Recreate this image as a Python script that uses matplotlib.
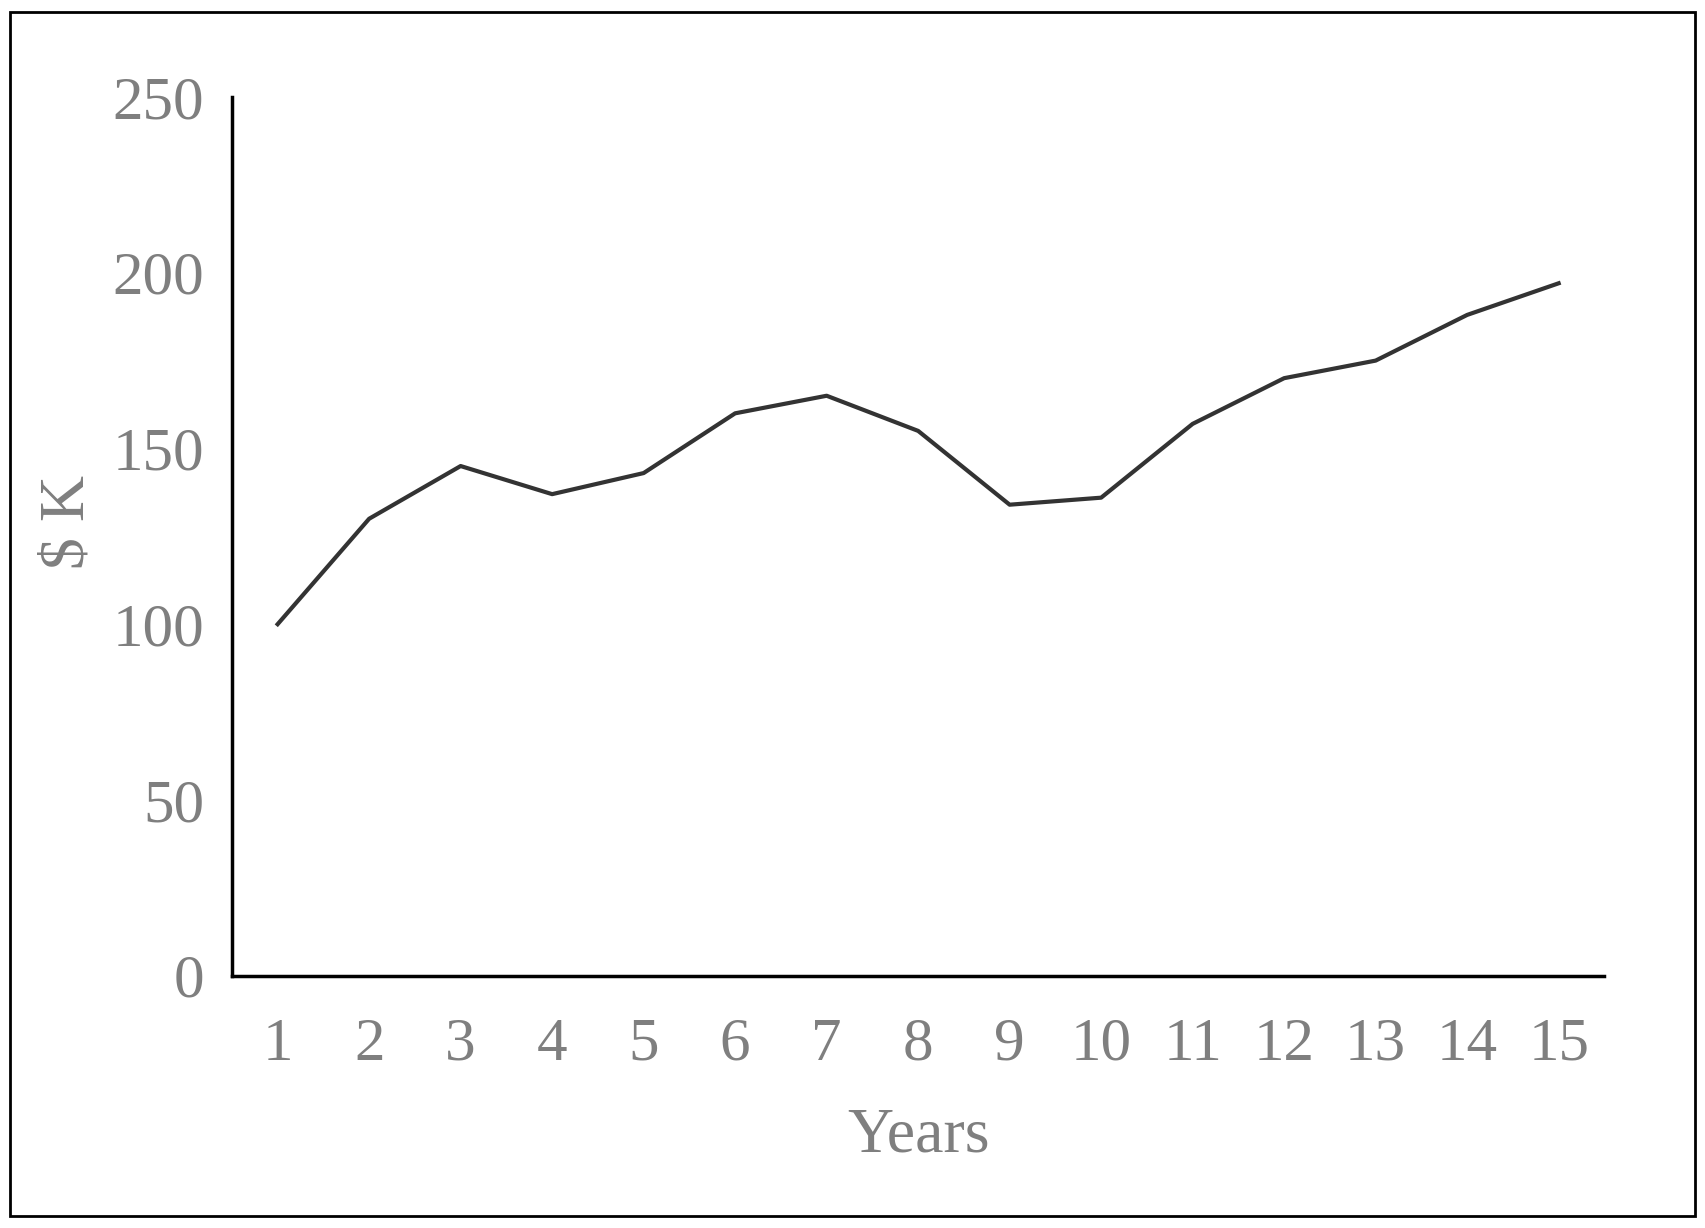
import matplotlib
matplotlib.use("Agg")
import matplotlib.pyplot as plt
from matplotlib.patches import Rectangle

years = list(range(1, 16))
values = [100, 130, 145, 137, 143, 160, 165, 155, 134, 136, 157, 170, 175, 188, 197]

plt.rcParams["font.family"] = ["Liberation Serif", "DejaVu Serif"]
GRAY = "#7f7f7f"

fig = plt.figure(figsize=(17.05, 12.28), dpi=100)
ax = fig.add_axes([0.136, 0.2055, 0.805, 0.7155])
ax.plot(years, values, color="#333333", lw=3)
ax.set_xlim(0.5, 15.5)
ax.set_ylim(0, 250)
ax.set_yticks(range(0, 251, 50))
ax.set_xticks(years)
for s in ("top", "right"):
    ax.spines[s].set_visible(False)
for s in ("left", "bottom"):
    ax.spines[s].set_linewidth(2.5)
    ax.spines[s].set_color("black")
ax.tick_params(length=0, labelsize=44, labelcolor=GRAY, pad=20)
ax.tick_params(axis="x", pad=30)
ax.set_xlabel("Years", fontsize=46, color=GRAY, labelpad=25)
fig.text(0.040, 0.575, "$ K", rotation=90, fontsize=46, color=GRAY,
         ha="center", va="center")
fig.patches.append(Rectangle((0.006, 0.01), 0.988, 0.98, transform=fig.transFigure,
                             fill=False, edgecolor="black", lw=2))
fig.savefig("out.png", dpi=100)
